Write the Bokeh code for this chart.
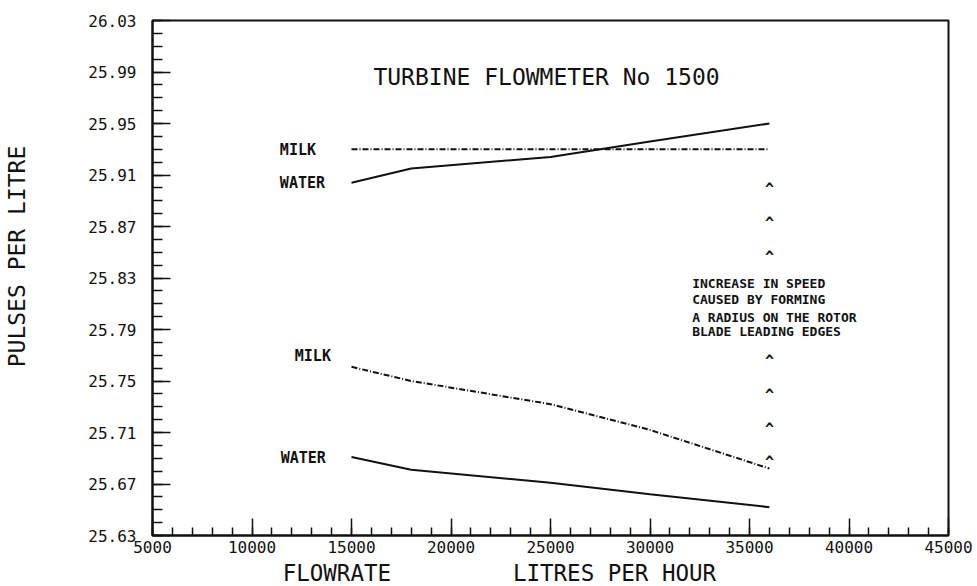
from bokeh.plotting import figure
from bokeh.models import Range1d, FixedTicker, PrintfTickFormatter, Label
from bokeh.core.properties import value
from bokeh.embed import file_html
from bokeh.resources import INLINE
import numpy as np

# Flowrate sample points (litres per hour)
flowrate = [15000, 18000, 25000, 30000, 36000]

# Calibration factor (pulses per litre), before rotor modification
water_before = [25.691, 25.681, 25.671, 25.662, 25.652]
milk_before = [25.761, 25.750, 25.732, 25.712, 25.682]

# Calibration factor after forming a radius on the rotor blade leading edges
water_after = [25.904, 25.915, 25.924, 25.936, 25.950]
milk_after = [25.930, 25.930, 25.930, 25.930, 25.930]

# Axis ticks
x_major = [5000, 10000, 15000, 20000, 25000, 30000, 35000, 40000, 45000]
y_major = [25.63, 25.67, 25.71, 25.75, 25.79, 25.83, 25.87, 25.91, 25.95, 25.99, 26.03]

# Arrow marks showing the shift at the highest flowrate
caret_x = 36000
caret_y = [25.9026, 25.8762, 25.8498, 25.7690, 25.7426, 25.7160, 25.6900]

note_lines = [
    "INCREASE IN SPEED",
    "CAUSED BY FORMING",
    "A RADIUS ON THE ROTOR",
    "BLADE LEADING EDGES",
]

FONT = "DejaVu Sans Mono"
INK = "#111111"
NBSP = "\u00a0"

p = figure(
    width=977, height=586,
    output_backend="svg", toolbar_location=None,
    x_range=Range1d(5000, 45000), y_range=Range1d(25.63, 26.03),
    min_border_left=152, min_border_right=29, min_border_top=20, min_border_bottom=51,
    background_fill_color="white", border_fill_color="white",
)
p.grid.visible = False
p.outline_line_color = INK
p.outline_line_width = 2

# Axes with inward ticks
for ax in (p.xaxis[0], p.yaxis[0]):
    ax.axis_line_color = INK
    ax.axis_line_width = 2
    ax.major_tick_line_color = INK
    ax.minor_tick_line_color = INK
    ax.major_tick_line_width = 1.5
    ax.minor_tick_line_width = 1.5
    ax.major_tick_out = 0
    ax.minor_tick_out = 0
    ax.major_label_text_font = FONT
    ax.major_label_text_color = INK
    ax.major_label_text_font_size = "16px"

p.xaxis.ticker = FixedTicker(ticks=x_major, minor_ticks=list(range(5000, 45001, 1000)))
p.xaxis.formatter = PrintfTickFormatter(format="%d")
p.xaxis.major_tick_in = 17
p.xaxis.minor_tick_in = 8
p.xaxis.major_label_standoff = 5

p.yaxis.ticker = FixedTicker(ticks=y_major,
                             minor_ticks=[round(v, 2) for v in np.arange(25.63, 26.0301, 0.01)])
p.yaxis.formatter = PrintfTickFormatter(format="%.2f")
p.yaxis.major_tick_in = 18
p.yaxis.minor_tick_in = 10
p.yaxis.major_label_standoff = 16

# Data lines
p.line(flowrate, water_before, line_color=INK, line_width=2)
p.line(flowrate, milk_before, line_color=INK, line_width=2, line_dash="6 2 1 2")
p.line(flowrate, water_after, line_color=INK, line_width=2)
p.line(flowrate, milk_after, line_color=INK, line_width=2, line_dash="6 2 1 2")

# Carets marking the increase
p.text(x=[caret_x] * len(caret_y), y=caret_y, text=["^"] * len(caret_y),
       text_font=value(FONT), text_font_style="bold", text_font_size="15px",
       text_align="center", text_baseline="middle", y_offset=4, text_color=INK)

# Title
p.add_layout(Label(x=24800, y=25.9865, text="TURBINE FLOWMETER No 1500",
                   text_font=FONT, text_font_size="23px", text_align="center",
                   text_baseline="middle", text_color=INK))

# Series labels
series_labels = [
    ("MILK", 11400, 25.9298),
    ("WATER", 11400, 25.9034),
    ("MILK", 12150, 25.7698),
    ("WATER", 11440, 25.6900),
]
for txt, lx, ly in series_labels:
    p.add_layout(Label(x=lx, y=ly, text=txt, text_font=FONT, text_font_size="15px",
                       text_font_style="bold", text_align="left",
                       text_baseline="middle", text_color=INK))

# Explanatory note
note_y = [25.8260, 25.8130, 25.7996, 25.7887]
for txt, ly in zip(note_lines, note_y):
    p.add_layout(Label(x=32120, y=ly, text=txt, text_font=FONT, text_font_size="13px",
                       text_font_style="bold", text_align="left",
                       text_baseline="middle", text_color=INK))

# Axis titles, kept in the side panels so they sit outside the frame
x_title = "FLOWRATE" + NBSP * 9 + "LITRES" + NBSP + "PER" + NBSP + "HOUR"
p.add_layout(Label(x=11540, y=25.6005, text=x_title,
                   text_font=FONT, text_font_size="22.5px", text_align="left",
                   text_baseline="middle", text_color=INK), "below")
p.add_layout(Label(x=-1792, y=25.8467, text="PULSES PER LITRE",
                   angle=np.pi / 2, text_font=FONT, text_font_size="23px", text_align="center",
                   text_baseline="middle", text_color=INK), "left")

open("out.html", "w").write(file_html(p, INLINE))
